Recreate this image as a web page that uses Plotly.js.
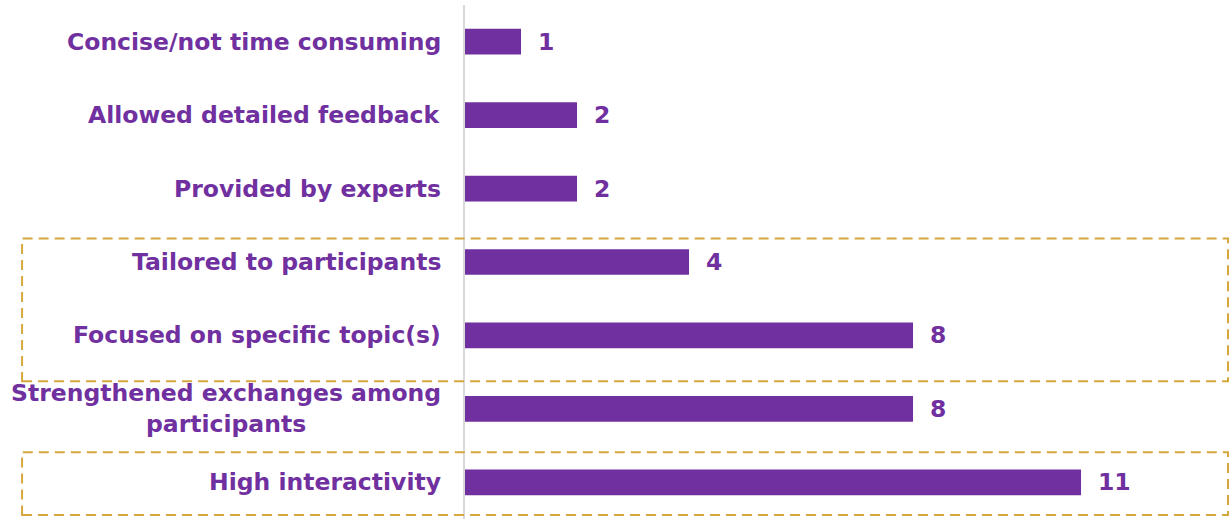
<!DOCTYPE html>
<html><head><meta charset="utf-8">
<script src="https://cdn.plot.ly/plotly-3.0.1.min.js"></script>
<style>html,body{margin:0;padding:0;background:#fff}#chart{width:1230px;height:519px}</style>
</head><body><div id="chart"></div>
<script>
var categories = ["Concise/not time consuming","Allowed detailed feedback","Provided by experts","Tailored to participants","Focused on specific topic(s)","Strengthened exchanges among<br>participants","High interactivity"];
var values = [1,2,2,4,8,8,11];
var purple = "#7030A0";
var gold = "#D4A83C";
var font = {family:"DejaVu Sans", size:23.5, color:purple, weight:"bold"};

var trace = {type:"bar", orientation:"h", y:categories, x:values, width:0.35,
  marker:{color:purple}, hoverinfo:"none"};

var ann = [];
categories.forEach(function(c,i){
  ann.push({xref:"paper", x:0, yref:"y", y:c, text:c, showarrow:false, xanchor:"right", xshift:-22, align:"center", font:font});
  ann.push({xref:"x", x:values[i], yref:"y", y:c, text:String(values[i]), showarrow:false, xanchor:"left", xshift:15, font:font});
});

var boxLine = {color:gold, width:2, dash:"10px,6px"};
var shapes = [
  {type:"rect", xref:"paper", yref:"paper", x0:-0.579, x1:0.9974, y0:0.268, y1:0.5456, line:boxLine},
  {type:"rect", xref:"paper", yref:"paper", x0:-0.579, x1:0.9974, y0:0.0078, y1:0.130, line:boxLine}
];

var layout = {width:1230, height:519, margin:{l:465, r:0, t:5, b:0},
  paper_bgcolor:"#fff", plot_bgcolor:"#fff", showlegend:false,
  xaxis:{range:[0,13.66], showgrid:false, zeroline:false, showticklabels:false, showline:false},
  yaxis:{type:"category", autorange:"reversed", showticklabels:false, showgrid:false, zeroline:false,
    showline:true, linecolor:"#D9D9D9", linewidth:2},
  annotations:ann, shapes:shapes};
Plotly.newPlot("chart",[trace],layout,{displayModeBar:false, staticPlot:true});
</script></body></html>
